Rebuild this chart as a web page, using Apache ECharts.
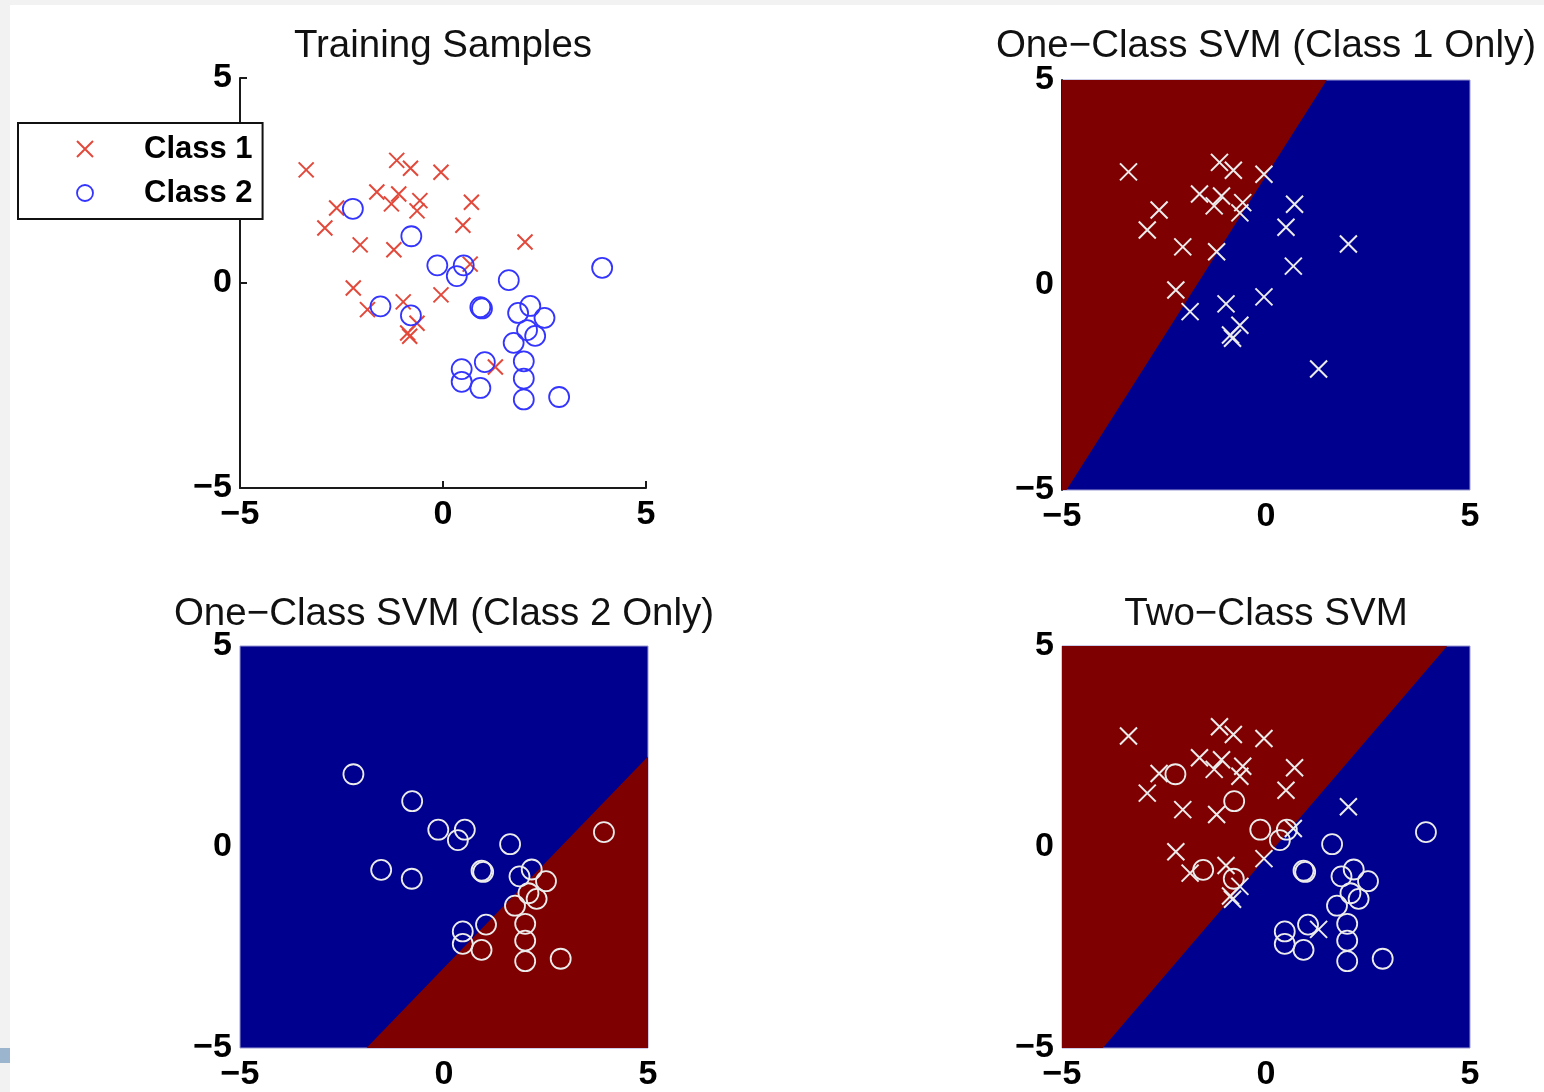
<!DOCTYPE html>
<html>
<head>
<meta charset="utf-8">
<script src="https://cdn.jsdelivr.net/npm/echarts@6/dist/echarts.min.js"></script>
<style>
html,body{margin:0;padding:0;background:#f2f2f2;}
#chart{width:1544px;height:1092px;}
</style>
</head>
<body>
<div id="chart"></div>
<script>
// ---- data ----
const class1X = [-3.37,-1.14,-0.80,-0.05,-1.63,-1.09,-1.27,-0.57,-0.64,-2.62,-2.91,0.70,0.49,-2.04,-1.21,2.02,0.67,-2.21,-1.86,-0.98,-0.05,-0.64,-0.87,-0.82,1.29];
const class1Y = [2.76,2.99,2.80,2.70,2.22,2.17,1.93,2.01,1.76,1.83,1.34,1.97,1.41,0.93,0.81,1.00,0.46,-0.12,-0.65,-0.46,-0.29,-0.98,-1.22,-1.30,-2.05];
const class2X = [-2.22,-0.78,-0.14,0.51,0.34,1.62,3.92,-1.54,-0.79,0.92,0.96,1.85,2.15,2.50,2.07,2.27,1.74,1.03,1.99,0.46,0.46,1.99,0.92,1.99,2.86];
const class2Y = [1.81,1.14,0.43,0.43,0.17,0.07,0.37,-0.57,-0.79,-0.59,-0.62,-0.73,-0.56,-0.85,-1.15,-1.29,-1.46,-1.93,-1.91,-2.10,-2.41,-2.33,-2.56,-2.84,-2.78];

// decision regions (class-1 side, drawn dark red) as polygons in data space
const redRegion1 = [[-5,-5],[-4.89,-5],[1.49,5],[-5,5]];   // One-Class SVM (Class 1 Only)
const redRegion2 = [[-1.9,-5],[5,-5],[5,2.25]];            // One-Class SVM (Class 2 Only)
const redRegion3 = [[-5,-5],[-4.0,-5],[4.44,5],[-5,5]];    // Two-Class SVM

const tickValues = [-5, 0, 5];
const tickText = ['\u22125', '0', '5'];
const titles = ['Training Samples', 'One\u2212Class SVM (Class 1 Only)', 'One\u2212Class SVM (Class 2 Only)', 'Two\u2212Class SVM'];
const legendNames = ['Class 1', 'Class 2'];

// ---- styling ----
const FONT = '"Liberation Sans", Arial, Helvetica, sans-serif';
const RED_MARK = '#e2493b';
const BLUE_MARK = '#3434ff';
const WHITE_MARK = '#ececec';
const DARK_RED = '#7f0000';
const DARK_BLUE = '#00008f';
const CROSS = 'path://M0,0L10,10M10,0L0,10';

const grids = [
  {left:240, top:78, width:406, height:410},
  {left:1062, top:80, width:408, height:410},
  {left:240, top:646, width:408, height:410},
  {left:1062, top:646, width:408, height:410}
];

function pairs(xs, ys){ return xs.map((x,i)=>[x, ys[i]]); }
function fmt(v){ const i = tickValues.indexOf(v); return i >= 0 ? tickText[i] : ''; }

function axis(gi, isX, svm, showLine){
  return {
    type:'value', gridIndex:gi, min:-5, max:5, interval:5,
    axisLine:{show:showLine, onZero:false, lineStyle:{color:'#1a1a1a', width:2}},
    axisTick:{show:!svm, inside:true, length:7, lineStyle:{color:'#1a1a1a', width:2}},
    axisLabel:{formatter:fmt, color:'#000', fontFamily:FONT, fontWeight:'bold', fontSize:34, margin: isX ? 10 : 8},
    splitLine:{show:false}
  };
}

function regionSeries(gi, poly){
  return {
    type:'custom', xAxisIndex:gi, yAxisIndex:gi, silent:true, z:1,
    data: poly,
    renderItem: function(params, api){
      if (params.dataIndex !== 0) return null;
      const pts = poly.map(p => api.coord(p));
      return {type:'polygon', shape:{points:pts}, style:{fill:DARK_RED}};
    }
  };
}

function crossSeries(name, gi, color, size){
  return {type:'scatter', name, xAxisIndex:gi, yAxisIndex:gi, z:3, silent:true,
    symbol:CROSS, symbolSize:size, data:pairs(class1X, class1Y),
    itemStyle:{color:'rgba(0,0,0,0)', borderColor:color, borderWidth:2, opacity:1}};
}
function circleSeries(name, gi, color){
  return {type:'scatter', name, xAxisIndex:gi, yAxisIndex:gi, z:3, silent:true,
    symbol:'circle', symbolSize:20, data:pairs(class2X, class2Y),
    itemStyle:{color:'rgba(0,0,0,0)', borderColor:color, borderWidth:1.8, opacity:1}};
}

const titleCenters = [[443,46],[1266,46],[444,614],[1266,614]];

const option = {
  animation:false,
  backgroundColor:'#f2f2f2',
  graphic:[
    {type:'rect', shape:{x:10, y:5, width:1534, height:1087}, style:{fill:'#ffffff'}, z:-10, silent:true},
    {type:'rect', shape:{x:0, y:1048, width:10, height:15}, style:{fill:'#9cb5cf'}, z:-10, silent:true}
  ],
  title: titles.map((t,i)=>({
    text:t, left:titleCenters[i][0], top:titleCenters[i][1]-21, textAlign:'center', padding:0,
    textStyle:{fontFamily:FONT, fontWeight:'normal', fontSize:38.5, lineHeight:42, color:'#111'}
  })),
  legend:{
    left:18, top:123, orient:'vertical', padding:[9,10,9,58], itemGap:10,
    itemWidth:108, itemHeight:16, symbolKeepAspect:true,
    backgroundColor:'#ffffff', borderColor:'#111', borderWidth:2, borderRadius:0,
    textStyle:{fontFamily:FONT, fontWeight:'bold', fontSize:31, lineHeight:34, color:'#000'},
    selectedMode:false,
    data:[
      {name:legendNames[0], icon:CROSS, itemStyle:{color:'rgba(0,0,0,0)', borderColor:RED_MARK, borderWidth:2}},
      {name:legendNames[1], icon:'circle', itemStyle:{color:'rgba(0,0,0,0)', borderColor:BLUE_MARK, borderWidth:1.8}}
    ]
  },
  grid: grids.map((g,i)=>Object.assign({}, g, i===0 ? {show:false} :
        {show:true, backgroundColor:DARK_BLUE, borderColor:'#9a9ad4', borderWidth:1})),
  xAxis:[axis(0,true,false,true), axis(1,true,true,false), axis(2,true,true,false), axis(3,true,true,false)],
  yAxis:[axis(0,false,false,true), axis(1,false,true,true), axis(2,false,true,false), axis(3,false,true,false)],
  series:[
    crossSeries(legendNames[0], 0, RED_MARK, 15),
    circleSeries(legendNames[1], 0, BLUE_MARK),
    regionSeries(1, redRegion1),
    crossSeries('Class 1 (one-class)', 1, WHITE_MARK, 17),
    regionSeries(2, redRegion2),
    circleSeries('Class 2 (one-class)', 2, WHITE_MARK),
    regionSeries(3, redRegion3),
    crossSeries('Class 1 (two-class)', 3, WHITE_MARK, 17),
    circleSeries('Class 2 (two-class)', 3, WHITE_MARK)
  ]
};

const chart = echarts.init(document.getElementById('chart'), null, {renderer:'canvas'});
chart.setOption(option);
</script>
</body>
</html>
